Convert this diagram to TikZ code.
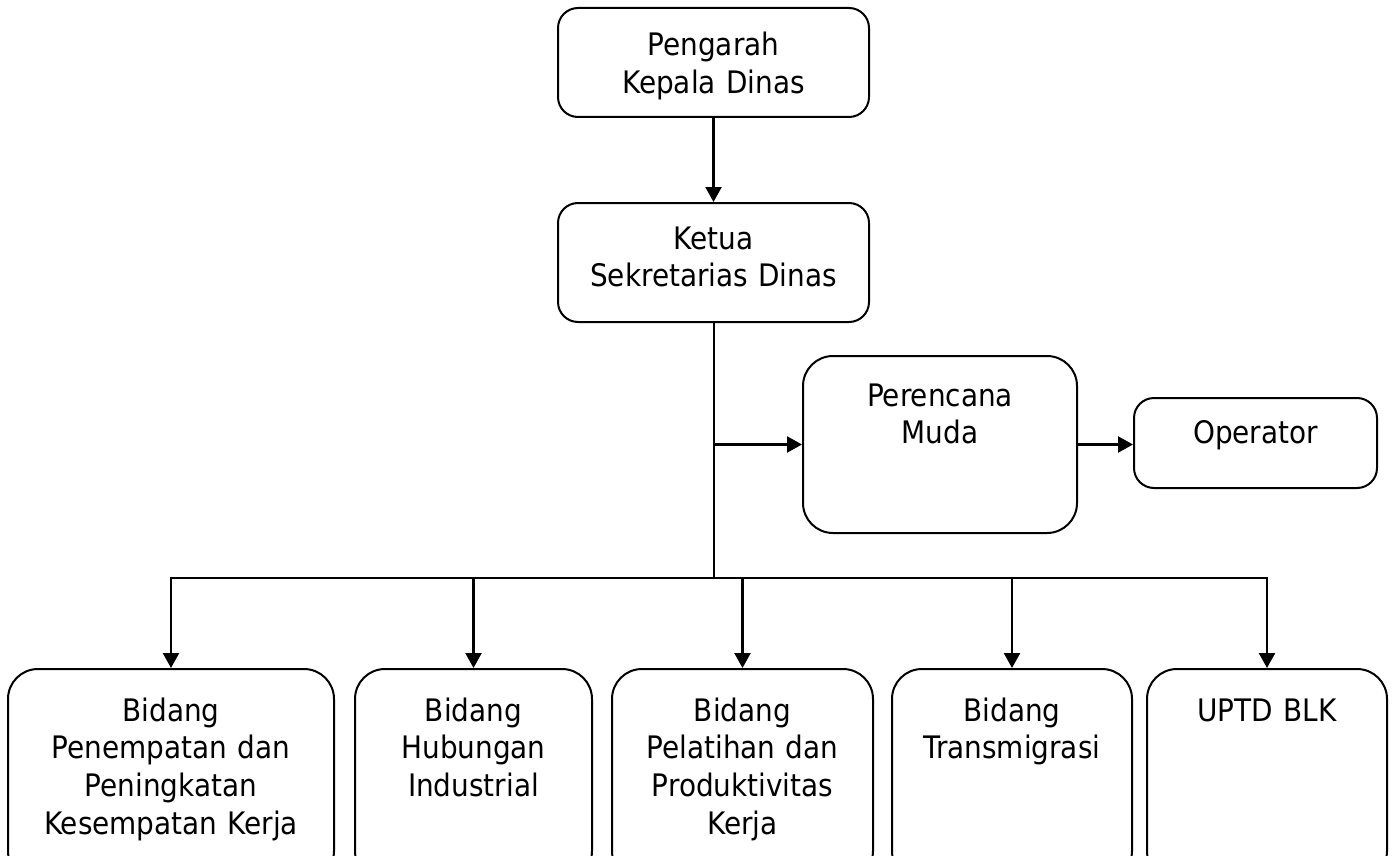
\documentclass[tikz,border=0pt]{standalone}
\usepackage{fontspec}
\setmainfont{DejaVu Sans Condensed}
\usetikzlibrary{arrows.meta}
\begin{document}
\begin{tikzpicture}[x=1pt,y=-1pt,
	unit/.style={draw,line width=2pt,inner sep=0pt,align=center,anchor=north west,
		font=\fontsize{31}{37.7}\selectfont},
	link/.style={line width=2.4pt,-{Triangle[length=15pt,width=16pt]}}]
		\useasboundingbox (0,0) rectangle (1394,856);
		\node [unit,rounded corners=20pt,text width=311pt,text height=48pt,text depth=61pt] (kadis) at (557,7) {Pengarah\\Kepala Dinas};
		\node [unit,rounded corners=20pt,text width=311pt,text height=46pt,text depth=73pt] (sekdis) at (557,202) {Ketua\\Sekretarias Dinas};
		\node [unit,rounded corners=30pt,text width=274pt,text height=50pt,text depth=127pt] (perencana) at (802,355) {Perencana\\Muda};
		\node [unit,rounded corners=20pt,text width=243pt,text height=45pt,text depth=45pt] (operator) at (1133,397) {Operator};
		\node [unit,rounded corners=30pt,text width=326pt,text height=52pt,text depth=160pt] (penempatan) at (7,668) {Bidang\\Penempatan dan\\Peningkatan\\Kesempatan Kerja};
		\node [unit,rounded corners=30pt,text width=237pt,text height=52pt,text depth=160pt] (hubungan) at (354,668) {Bidang\\Hubungan\\Industrial};
		\node [unit,rounded corners=30pt,text width=261pt,text height=52pt,text depth=160pt] (pelatihan) at (611,668) {Bidang\\Pelatihan dan\\Produktivitas\\Kerja};
		\node [unit,rounded corners=30pt,text width=240pt,text height=52pt,text depth=160pt] (transmigrasi) at (891,668) {Bidang\\Transmigrasi};
		\node [unit,rounded corners=30pt,text width=240pt,text height=52pt,text depth=160pt] (uptd) at (1146,668) {UPTD BLK};
		\coordinate (hub) at (sekdis.south |- 0,578);
		\draw [link] (kadis) -- (sekdis);
		\draw [line width=2pt] (sekdis) -- (hub);
		\draw [link] (sekdis.south |- perencana.west) -- (perencana.west);
		\draw [link] (perencana.east) -- (operator.west |- perencana.east);
		\foreach \b in {penempatan,hubungan,pelatihan,transmigrasi,uptd}
			\draw [link] (hub) -| (\b.north);
\end{tikzpicture}
\end{document}
